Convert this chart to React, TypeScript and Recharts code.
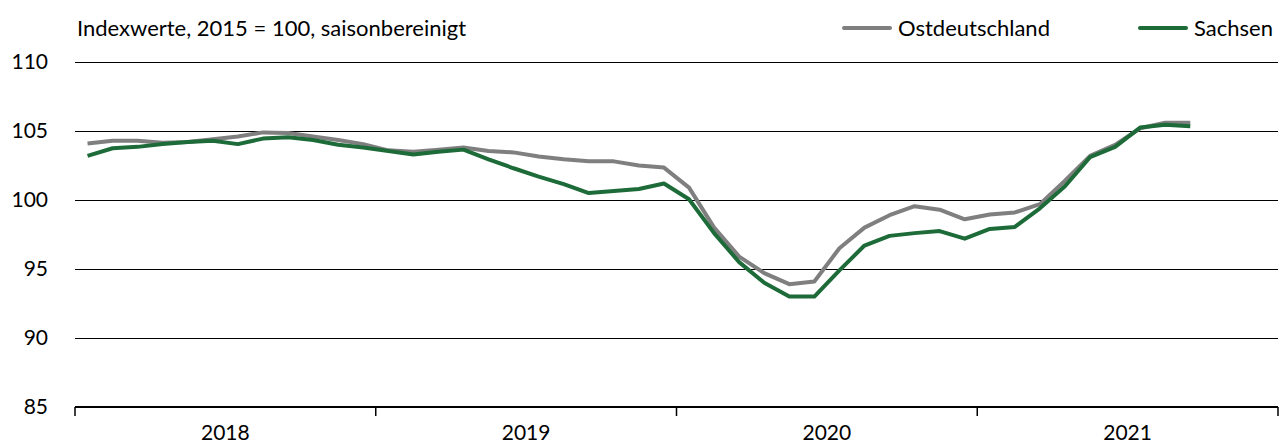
import { CartesianGrid, Line, LineChart, XAxis, YAxis } from 'recharts';

const years = ['2018', '2019', '2020', '2021'];

// monthly points, Jan 2018 .. Sep 2021
const months = [
  '2018-01', '2018-02', '2018-03', '2018-04', '2018-05', '2018-06',
  '2018-07', '2018-08', '2018-09', '2018-10', '2018-11', '2018-12',
  '2019-01', '2019-02', '2019-03', '2019-04', '2019-05', '2019-06',
  '2019-07', '2019-08', '2019-09', '2019-10', '2019-11', '2019-12',
  '2020-01', '2020-02', '2020-03', '2020-04', '2020-05', '2020-06',
  '2020-07', '2020-08', '2020-09', '2020-10', '2020-11', '2020-12',
  '2021-01', '2021-02', '2021-03', '2021-04', '2021-05', '2021-06',
  '2021-07', '2021-08', '2021-09',
];

const ostdeutschland = [
  104.1, 104.3, 104.3, 104.15, 104.2, 104.4, 104.6, 104.9, 104.85, 104.6, 104.35, 104.05,
  103.6, 103.5, 103.65, 103.8, 103.55, 103.45, 103.15, 102.95, 102.8, 102.8, 102.5, 102.35,
  100.9, 98.0, 95.9, 94.7, 93.9, 94.1, 96.5, 98.0, 98.9, 99.55, 99.3, 98.6,
  98.95, 99.1, 99.7, 101.4, 103.2, 104.0, 105.2, 105.6, 105.6,
];

const sachsen = [
  103.2, 103.75, 103.85, 104.05, 104.2, 104.3, 104.05, 104.45, 104.55, 104.35, 104.0, 103.8,
  103.55, 103.3, 103.5, 103.65, 102.95, 102.3, 101.7, 101.15, 100.5, 100.65, 100.8, 101.2,
  100.05, 97.6, 95.5, 94.0, 93.0, 93.0, 94.9, 96.7, 97.4, 97.6, 97.75, 97.2,
  97.9, 98.05, 99.4, 101.0, 103.1, 103.85, 105.25, 105.45, 105.35,
];

const yTicks = [85, 90, 95, 100, 105, 110];

const data = months.map((m, i) => ({
  pos: i + 0.5,
  month: m,
  ost: ostdeutschland[i],
  sachsen: sachsen[i],
}));

const FONT = 'Lato, "Noto Sans", sans-serif';
const GRAY = '#7f7f7f';
const GREEN = '#1d6b38';

const YearTick = (props: any) => {
  const { x, y, payload } = props;
  const v = payload.value;
  if (v % 12 === 0) {
    return <line x1={x} x2={x} y1={y} y2={y + 9} stroke="#000" strokeWidth={1.5} />;
  }
  return (
    <text x={x} y={y + 24} textAnchor="middle" dominantBaseline="central"
      fontFamily={FONT} fontSize={21} fill="#000">
      {years[(v - 6) / 12]}
    </text>
  );
};

const LegendItem = ({ left, color, label }: { left: number; color: string; label: string }) => (
  <div style={{ position: 'absolute', left, top: 16, display: 'flex', alignItems: 'center' }}>
    <div style={{ width: 50, height: 4, background: color, borderRadius: 2, marginRight: 6 }} />
    <span style={{ fontSize: 22, lineHeight: '24px' }}>{label}</span>
  </div>
);

export default function App() {
  return (
    <div style={{ position: 'absolute', left: 0, top: 0, width: 1288, height: 444, fontFamily: FONT, background: '#fff' }}>
      <div style={{ position: 'absolute', left: 77, top: 16, fontSize: 22, lineHeight: '24px' }}>
        Indexwerte, 2015 = 100, saisonbereinigt
      </div>
      <LegendItem left={842} color={GRAY} label="Ostdeutschland" />
      <LegendItem left={1138} color={GREEN} label="Sachsen" />
      <LineChart width={1288} height={444} data={data}
        margin={{ top: 62, right: 10, bottom: 7, left: 0 }}>
        <CartesianGrid vertical={false} stroke="#000" strokeWidth={1} shapeRendering="crispEdges" />
        <XAxis dataKey="pos" type="number" domain={[0, 48]}
          ticks={[0, 6, 12, 18, 24, 30, 36, 42, 48]} interval={0}
          tick={<YearTick />} tickLine={false} tickSize={0} tickMargin={0}
          axisLine={{ stroke: '#000', strokeWidth: 2 }} height={30} />
        <YAxis domain={[85, 110]} ticks={yTicks} interval={0} width={75}
          axisLine={false} tickLine={false} tickSize={0} tickMargin={27}
          tick={{ fill: '#000', fontSize: 21, fontFamily: FONT }} />
        <Line dataKey="ost" stroke={GRAY} strokeWidth={4} dot={false}
          isAnimationActive={false} strokeLinejoin="round" />
        <Line dataKey="sachsen" stroke={GREEN} strokeWidth={4} dot={false}
          isAnimationActive={false} strokeLinejoin="round" />
      </LineChart>
    </div>
  );
}
